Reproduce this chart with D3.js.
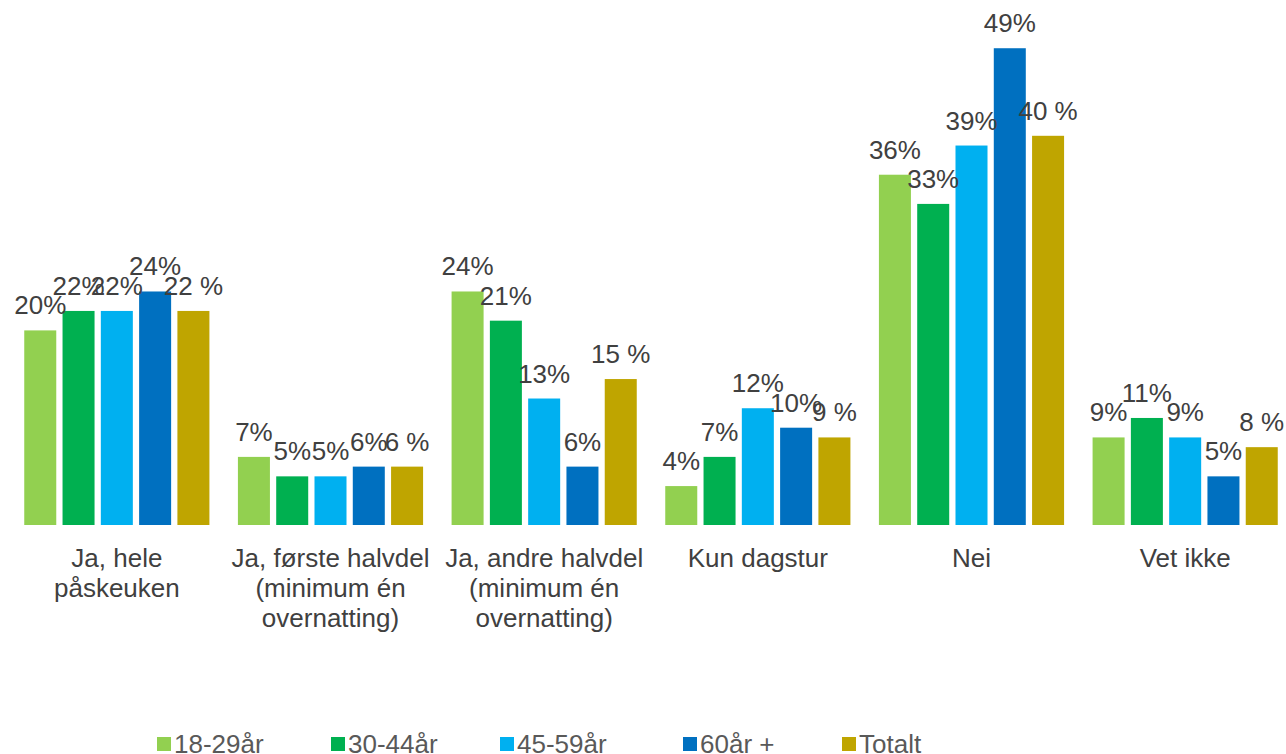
<!DOCTYPE html>
<html>
<head>
<meta charset="utf-8">
<script src="https://cdn.jsdelivr.net/npm/d3@7"></script>
<style>
  html, body { margin: 0; padding: 0; background: #fff; }
  svg { display: block; }
  text { font-family: "Liberation Sans", Arial, sans-serif; }
</style>
</head>
<body>
<svg id="chart" width="1286" height="754"></svg>
<script>
// ---- data ----
const categories = [
  "Ja, hele påskeuken",
  "Ja, første halvdel (minimum én overnatting)",
  "Ja, andre halvdel (minimum én overnatting)",
  "Kun dagstur",
  "Nei",
  "Vet ikke"
];
const seriesNames = ["18-29år", "30-44år", "45-59år", "60år +", "Totalt"];
const values_18_29 = [20, 7, 24, 4, 36, 9];
const values_30_44 = [22, 5, 21, 7, 33, 11];
const values_45_59 = [22, 5, 13, 12, 39, 9];
const values_60 = [24, 6, 6, 10, 49, 5];
const values_total = [22, 6, 15, 9, 40, 8];
const seriesColors = ["#92D050", "#00B050", "#00B0F0", "#0070C0", "#BFA500"];

const seriesValues = [values_18_29, values_30_44, values_45_59, values_60, values_total];

// ---- layout ----
const svg = d3.select("#chart");
const baseline = 525;

const x = d3.scaleBand()
  .domain(categories)
  .range([10, 1292])
  .paddingInner(0.1334)
  .paddingOuter(0.0667);

const xInner = d3.scaleBand()
  .domain(seriesNames)
  .range([0, x.bandwidth()])
  .paddingInner(0.164)
  .paddingOuter(0);

const y = d3.scaleLinear().domain([0, 50]).range([baseline, 38.5]);

const rows = [];
categories.forEach((c, ci) => {
  seriesNames.forEach((s, si) => {
    rows.push({ cat: c, series: s, si, value: seriesValues[si][ci] });
  });
});

const g = svg.append("g");

g.selectAll("rect.bar")
  .data(rows)
  .join("rect")
  .attr("class", "bar")
  .attr("x", d => x(d.cat) + xInner(d.series))
  .attr("width", xInner.bandwidth())
  .attr("y", d => y(d.value))
  .attr("height", d => y(0) - y(d.value))
  .attr("fill", d => seriesColors[d.si]);

g.selectAll("text.lbl")
  .data(rows)
  .join("text")
  .attr("class", "lbl")
  .attr("x", d => x(d.cat) + xInner(d.series) + xInner.bandwidth() / 2)
  .attr("y", d => y(d.value) - 16)
  .attr("text-anchor", "middle")
  .attr("font-size", 26)
  .attr("fill", "#404040")
  .text(d => d.series === "Totalt" ? d.value + " %" : d.value + "%");

// category axis labels (no line)
const xAxis = d3.axisBottom(x).tickSize(0).tickPadding(0);
const axisG = svg.append("g").attr("transform", `translate(0,${baseline})`).call(xAxis);
axisG.select(".domain").remove();
axisG.selectAll(".tick text").remove();

function wrapLines(label, maxW) {
  const tmp = svg.append("text").attr("font-size", 26).attr("visibility", "hidden");
  const words = label.split(" ");
  const lines = [];
  let cur = "";
  words.forEach(w => {
    const test = cur ? cur + " " + w : w;
    tmp.text(test);
    if (tmp.node().getComputedTextLength() > maxW && cur) {
      lines.push(cur);
      cur = w;
    } else {
      cur = test;
    }
  });
  if (cur) lines.push(cur);
  tmp.remove();
  return lines;
}

axisG.selectAll(".tick").each(function(d) {
  const lines = wrapLines(d, 205);
  const t = d3.select(this).append("text")
    .attr("text-anchor", "middle")
    .attr("font-size", 26)
    .attr("fill", "#404040")
    .attr("y", 42);
  lines.forEach((ln, i) => {
    t.append("tspan").attr("x", 0).attr("dy", i === 0 ? 0 : 30).text(ln);
  });
});

// legend
const legendX = [157, 331, 500, 683, 842];
const legend = svg.append("g").attr("transform", "translate(0,737)");
const li = legend.selectAll("g.li").data(seriesNames).join("g")
  .attr("class", "li")
  .attr("transform", (d, i) => `translate(${legendX[i]},0)`);
li.append("rect").attr("width", 14).attr("height", 14).attr("fill", (d, i) => seriesColors[i]);
li.append("text").attr("x", 17).attr("y", 16).attr("font-size", 26).attr("fill", "#595959").text(d => d);
</script>
</body>
</html>
